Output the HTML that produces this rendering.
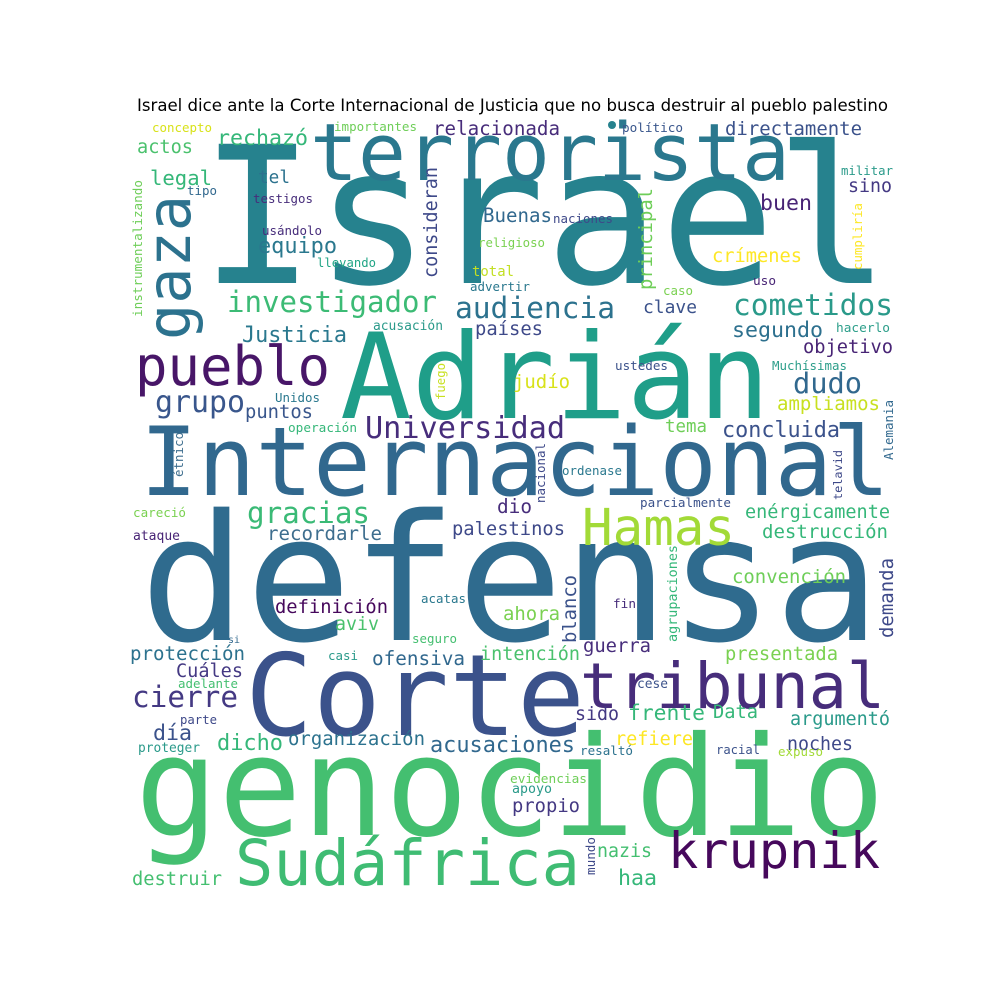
<!DOCTYPE html>
<html><head><meta charset="utf-8"><style>
html,body{margin:0;padding:0;background:#fff;width:1000px;height:1000px;overflow:hidden}
svg text.w{font-family:"DejaVu Sans Mono","Liberation Mono",monospace}
svg text.t{font-family:"DejaVu Sans","Liberation Sans",sans-serif}
</style></head><body>
<svg id="cloud" width="1000" height="1000" xmlns="http://www.w3.org/2000/svg">
<text class="t" x="137" y="111" font-size="17" fill="#000" textLength="751" lengthAdjust="spacingAndGlyphs">Israel dice ante la Corte Internacional de Justicia que no busca destruir al pueblo palestino</text>
<circle cx="612" cy="125" r="4" fill="#26828e"/>
</svg>
<script>
const words=["Israel","Adrián","Internacional","defensa","genocidio","Corte","tribunal","terrorista","gaza","pueblo","Hamas","Sudáfrica","krupnik",
"investigador","audiencia","cometidos","Universidad","grupo","dudo","gracias","cierre","concluida","rechazó","relacionada","directamente","actos","legal","tel","equipo",
"buen","Buenas","consideran","principal","crímenes","total","sino","militar","clave","países","segundo","Justicia","objetivo","judío","ampliamos","puntos","tema","Muchísimas",
"dio","palestinos","enérgicamente","destrucción","recordarle","convención","blanco","definición","ahora","aviv","demanda","guerra","intención","protección","Cuáles","ofensiva",
"presentada","sido","frente","Data","argumentó","día","dicho","organización","acusaciones","refiere","noches","propio","nazis","haa","destruir",
"Unidos","operación","fuego","ustedes","hacerlo","uso","caso","advertir","llevando","religioso","naciones","usándolo","testigos","tipo","instrumentalizando","concepto","importantes",
"político","cumpliría","acusación","étnico","nacional","ordenase","telavid","Alemania","parcialmente","careció","ataque","agrupaciones","acatas","fin","si","seguro","casi","adelante",
"cese","parte","proteger","resaltó","racial","expuso","evidencias","apoyo","mundo"];
const xs=[200,340,140,140,135,245,580,310,190,135,582,235,668,
227,455,733,365,155,793,247,132,722,217,433,725,137,150,258,258,
760,483,437,652,712,472,848,841,643,475,732,242,803,513,777,245,665,772,
497,452,745,762,267,732,576,275,503,335,893,583,480,130,176,372,
725,575,628,713,790,153,217,288,430,615,787,512,597,618,132,
275,288,445,615,836,753,663,470,317,478,553,262,253,187,142,152,334,
622,862,373,183,545,562,842,893,640,133,133,677,421,613,228,412,328,178,
637,180,138,580,716,778,510,512,595];
const ys=[283,418,495,640,835,735,708,180,340,385,545,885,868,
312,318,315,438,412,393,523,707,437,145,135,135,153,185,183,253,
210,222,278,290,262,276,192,175,313,335,337,342,353,388,410,418,432,370,
513,535,518,538,540,583,643,613,620,630,638,652,660,660,677,665,
660,720,720,718,725,740,750,745,752,745,750,812,857,885,885,
402,432,400,370,332,285,295,291,267,247,223,235,203,195,317,132,131,
132,270,330,477,503,475,500,460,507,517,540,642,603,608,643,643,660,688,
688,724,752,755,754,756,783,793,875];
const cols=["#26828e","#1f9e89","#31688e","#2f6b8e","#44bf70","#3b528b","#472d7b","#2a788e","#2c728e","#481668","#a2da37","#3fbc73","#46085c",
"#3cbb75","#2c728e","#2a9a8a","#472d7b","#39568c","#31688e","#3aba76","#443983","#3b528b","#35b779","#472c7a","#3b528b","#4ac16d","#35b779","#2c728e","#2a788e",
"#482475","#31688e","#3e4989","#6ece58","#fde725","#c2df23","#443983","#2a9a8a","#3b528b","#3e4989","#2d708e","#2a788e","#482475","#d8e219","#c8e020","#39568c","#6ece58","#2c9e8a",
"#472d7b","#3e4989","#35b779","#35b779","#3e6e8e","#6ece58","#3b528b","#46085c","#7ad151","#4ac16d","#3e4989","#472d7b","#4ac16d","#2c728e","#443983","#31688e",
"#7ad151","#443983","#35b779","#35b779","#2a9a8a","#3b528b","#35b779","#2c728e","#31688e","#fde725","#3e4989","#443983","#44bf70","#35b779","#44bf70",
"#2a788e","#35b779","#c8e020","#3b528b","#2c9e8a","#482475","#7ad151","#2a788e","#21a585","#7ad151","#3e4989","#472d7b","#472d7b","#31688e","#6ece58","#d8e219","#6ece58",
"#39568c","#fde725","#2a9a8a","#3e6e8e","#3e4989","#2a788e","#3e4989","#31688e","#3b528b","#7ad151","#482475","#35b779","#2a788e","#472d7b","#31688e","#44bf70","#2a9a8a","#44bf70",
"#3b528b","#3e4989","#2a9a8a","#2c728e","#3b528b","#a2da37","#6ece58","#2a9a8a","#3e4989"];
const lens=[690,430,750,740,750,340,305,480,145,195,153,345,212,
210,160,160,200,90,69,123,106,118,91,127,137,56,62,32,79,
52,69,111,102,90,42,44,52,54,68,91,105,90,57,103,68,42,75,
35,113,145,126,115,114,68,113,57,44,80,68,100,115,67,93,
113,44,77,45,100,39,66,137,145,78,66,68,55,39,90,
45,69,37,53,54,23,30,60,59,67,60,60,60,30,137,60,83,
61,67,70,45,60,60,50,60,91,53,47,97,45,23,12,45,30,60,
31,37,62,53,44,45,77,40,38];
const vert=new Set(["gaza","consideran","principal","blanco","demanda","fuego","instrumentalizando","cumpliría","étnico","nacional","telavid","Alemania","agrupaciones","mundo"]);
const svg=document.getElementById('cloud');
const NS='http://www.w3.org/2000/svg';
words.forEach((w,i)=>{
  const t=document.createElementNS(NS,'text');
  
  
  t.setAttribute('class','w');
  t.textContent=w;
  const fs=lens[i]/(0.602*w.length);
  t.setAttribute('font-size',fs.toFixed(1));
  t.setAttribute('fill',cols[i]);
  t.setAttribute('textLength',lens[i]);
  t.setAttribute('lengthAdjust','spacingAndGlyphs');
  if(vert.has(w)){
    t.setAttribute('transform','translate('+xs[i]+','+ys[i]+') rotate(-90)');
    t.setAttribute('x',0);t.setAttribute('y',0);
  }else{
    t.setAttribute('x',xs[i]);t.setAttribute('y',ys[i]);
  }
  svg.appendChild(t);
});
</script>
</body></html>
